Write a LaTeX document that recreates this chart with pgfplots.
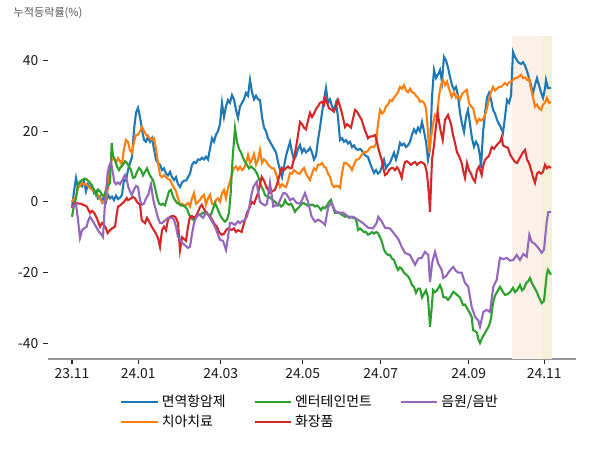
\documentclass[border=0pt]{standalone}
\usepackage{fontspec}
\setmainfont{Noto Sans CJK KR}
\usepackage{pgfplots}
\pgfplotsset{compat=1.18}
\definecolor{cblue}{HTML}{1F77B4}
\definecolor{corange}{HTML}{FF7F0E}
\definecolor{cgreen}{HTML}{2CA02C}
\definecolor{cred}{HTML}{D62728}
\definecolor{cpurple}{HTML}{9467BD}
\definecolor{shA}{HTML}{FBF1E8}
\definecolor{shB}{HTML}{F4F1D9}
\begin{document}
\begin{tikzpicture}
\fill[white] (0,0) rectangle (432pt,324pt);
\useasboundingbox (0,0) rectangle (432pt,324pt);
\node[anchor=west, inner sep=0pt, font=\fontsize{8}{10}\selectfont, text=black!65] at (9.6pt,314.3pt) {누적등락률(\%)};
\begin{axis}[
  at={(34.56pt,65.52pt)}, anchor=south west,
  scale only axis, width=380.16pt, height=232.56pt,
  xmin=48, xmax=576, ymin=-44.4, ymax=46.9,
  axis x line*=bottom, axis y line*=left,
  x axis line style={-, draw=black!40, line width=0.8pt},
  y axis line style={draw=none},
  tick align=outside, major tick length=3.5pt,
  xtick={72,138.3,220.7,302.7,380.7,468.7,544.3},
  xticklabels={23.11,24.01,24.03,24.05,24.07,24.09,24.11},
  ytick={-40,-20,0,20,40},
  minor tick num=0,
  tick style={black!85, line width=0.8pt},
  ticklabel style={font=\fontsize{10}{12}\selectfont, text=black!90},
  /pgf/number format/assume math mode=true,
  legend columns=3,
  legend cell align=left,
  legend style={at={(0.497,-0.163)}, anchor=center, draw=none, fill=none,
    font=\fontsize{10}{12}\selectfont, row sep=0.5pt,
    /tikz/every even column/.append style={column sep=18pt}},
  legend image code/.code={\draw[#1] (0pt,0pt) -- (21pt,0pt); \path (0pt,0pt) -- (26.5pt,0pt);},
]
\addplot[draw=none, fill=shA, forget plot] coordinates {(512,-44.4) (512,46.9) (542,46.9) (542,-44.4)};
\addplot[draw=none, fill=shB, forget plot] coordinates {(542,-44.4) (542,46.9) (552,46.9) (552,-44.4)};

\addlegendimage{cblue, line width=1.5pt}\addlegendentry{면역항암제}
\addlegendimage{cgreen, line width=1.5pt}\addlegendentry{엔터테인먼트}
\addlegendimage{cpurple, line width=1.5pt}\addlegendentry{음원/음반}
\addlegendimage{corange, line width=1.5pt}\addlegendentry{치아치료}
\addlegendimage{cred, line width=1.5pt}\addlegendentry{화장품}

% 면역항암제
\addplot[cblue, line width=1.5pt, forget plot] coordinates {
(72,-1.7)(74,3)(76,6.8)(78,4)(80,5.5)(82,4.5)(84,6)(86,3)(88,5)(90,4)(92,4.5)(94,2.5)(96,3)(98,1)(100,1.5)(102,0)(104,1.5)(106,0)(108,2)(110,1)(112,1.5)(114,0.5)(116,1.8)(118,0.8)(120,1.2)(122,2)(124,6.2)(126,6)(128,9)(130,11)(132,12.7)(134,20.4)(136,25.2)(138,26.6)(140,24)(142,20.4)(144,17.5)(146,17)(148,18.5)(150,17)(152,18)(154,15)(156,11.9)(158,11)(160,10.5)(162,9)(164,9.5)(166,8)(168,7.5)(170,8.5)(172,7)(174,6.2)(176,7)(178,5)(180,4.2)(182,5.5)(184,6)(186,6)(188,7)(190,8)(192,10.5)(194,11.3)
(196,11)(198,12)(200,11.9)(202,12.5)(204,12)(206,12.8)(208,12)(210,15)(212,18)(214,17)(216,19)(218,20)(220,22)(222,28)(224,24)(226,27)(228,28.8)(230,28)(232,30.2)(234,29)(236,26)(238,23.7)(240,27)(242,28)(244,29)(246,30.8)(248,30)(250,34.5)(252,31)(254,29)(256,30)(258,29)(260,28.8)(262,24)(264,21)(266,20)(268,18)(270,17)(272,16)(274,15)(276,14)(278,11.3)(280,9)(282,7)(284,10)(286,13)(288,15)(290,17)(292,14)(294,12)(296,13)(298,15)(300,16.1)(302,14)(304,15)(306,14)(308,14.5)(310,15.3)(312,14)(314,12)(316,13)(318,17.5)(320,21)(322,25.2)(324,29)(326,32.2)(328,28)(330,29)(332,27)(334,26)(336,28)(338,24)(340,17.5)(342,18)(344,17)(346,17.5)(348,16.5)(350,17)(352,15.5)(354,16)(356,15)(358,14.7)(360,15)(362,14.5)(364,13.5)(366,13)(368,12.7)(370,11)(372,9.5)(374,8.2)(376,9)(378,8)(380,8.5)(382,10)(384,11.9)(386,9.5)(388,10.5)(390,11)(392,12.5)(394,13.9)(396,12)(398,14)(400,16.7)(402,16)(404,16.5)(406,15.5)(408,16)(410,17)(412,19)(414,20.5)(416,19.5)(418,21)(420,20)(422,22.6)(424,20)(426,17)(428,11.9)(430,15)(432,29.7)(434,37.3)(436,35)(438,36)(440,37.3)(442,34)(444,41)(446,40)(448,38)(450,35.3)(452,33)(454,31.7)(456,32.5)(458,30)(460,25.2)(462,22)(464,19.8)(466,24)(468,26)(470,22)(472,18)(474,15.6)(476,17)(478,16)(480,13)(481,9.6)(483,19.5)(485,25)(487,29.4)(489,30.8)(491,29)(493,26)(495,25)(497,23.2)(499,22)(501,21)(503,19.5)(505,24)(507,28.8)(509,28)(511,30)(513,42.4)(515,41)(517,40)(519,39.3)(521,39)(523,39.5)(525,38.5)(527,37)(529,35)(531,33)(533,30.8)(535,33)(537,35)(539,33)(541,31)(543,29.4)(545,32)(546,34.5)(548,32.2)(551,32.2)
};
% 치아치료
\addplot[corange, line width=1.5pt, forget plot] coordinates {
(72,0)(74,1)(76,1.4)(78,4)(80,4.5)(82,5.5)(84,5)(86,5)(88,4.5)(90,4)(92,3.5)(94,3)(96,2.5)(98,2)(100,1)(102,0)(104,-0.3)(106,0.5)(108,4)(110,10)(112,11.9)(114,12.5)(116,11)(118,12.4)(120,11.5)(122,10.5)(124,15)(126,17.5)(128,17)(130,14.5)(132,13.9)(134,17)(136,18.9)(138,19)(140,20)(142,21.2)(144,20)(146,19)(148,18.5)(150,18)(152,17.5)(154,18)(156,15)(158,11)(160,7.6)(162,7)(164,7.5)(166,7)(168,6.5)(170,6.2)(172,5)(174,4)(176,3)(178,1)(180,-0.8)(182,-0.5)(184,-1)(186,-0.8)(188,-0.3)(190,-1.3)(192,1)(194,2.5)(196,-0.5)(198,0)(200,0.6)(202,1.5)(204,2)(206,-0.8)(208,1)(210,2)(212,-0.5)(214,-0.8)(216,0.5)(218,1)(220,0)(222,2.5)(224,3.4)(226,1)(228,4)(230,5.7)(232,8)(234,9.6)(236,10)(238,9)(240,9.9)(242,9)(244,9.5)(246,11)(248,13.3)(250,11)(252,12)(254,13.5)(256,10.5)(258,12)(260,14.7)(262,11)(264,12)(266,11.5)(268,10.5)(270,10)(272,9.5)(274,9.5)(276,8)(278,6)(280,4.2)(282,5)(284,4.5)(286,4.2)(288,6)(290,8.2)(292,8)(294,9)(296,8.5)(298,8)(300,8)(302,9)(304,9.6)(306,8)(308,7)(310,6.2)(312,8)(314,9.5)(316,9)(318,10.5)(320,10.5)(322,11)(324,10)(326,9.6)(328,8)(330,7.1)(332,5)(334,4.2)(336,4.5)(338,4.5)(340,4)(342,8)(344,11)(346,11)(348,10.5)(350,10)(352,9)(354,10.5)(356,11.9)(358,12)(360,12.5)(362,13.5)(364,14.1)(366,14)(368,14.5)(370,15.3)(372,15.6)(374,15.5)(376,16.5)(378,22)(380,26)(382,25)(384,25.5)(386,27)(388,27.5)(390,28.8)(392,28.5)(394,29.5)(396,30.2)(398,31)(400,32.5)(402,32)(404,33)(406,31.5)(408,31)(410,32)(412,31)(414,30.8)(416,30)(418,29.5)(420,28.3)(422,28.5)(424,28)(426,26.5)(428,20)(429,13.9)(431,18)(433,22)(435,24.6)(437,24)(439,30)(441,33.1)(443,34.5)(445,33)(447,34)(449,32)(451.7,29.7)(454,31)(456,29.5)(458,30)(460,29)(462,30.5)(464,31)(466.7,31.7)(469,28)(471,27)(473,26.6)(475,24)(477,22.3)(479,23.5)(481,23)(483,23.5)(485,24.5)(487,26.6)(489,29)(491,31)(493,32.5)(495,31.5)(497,32)(499,32.5)(501,32.5)(503,33)(505,33.6)(507,33)(509,33.8)(511,34)(513,34.5)(515,35)(517,35)(519,35.5)(521,35.9)(523,35)(525,35.2)(527,34.5)(529,34.8)(531,32)(533,29.5)(535,26.9)(537,27.5)(539,26.5)(541,26)(543,27.5)(545,28)(547,29.4)(549,28)(551,28.3)
};
% 엔터테인먼트
\addplot[cgreen, line width=1.5pt, forget plot] coordinates {
(72,-4.2)(74,-1)(76,1)(78,5.4)(80,5.5)(82,6.2)(84,6.5)(86,6.5)(88,6)(90,5.5)(92,4.5)(94,3.5)(96,2)(98,3.5)(100,3)(102,2)(104,1.5)(106,3.5)(108,4.5)(110,5.4)(111.7,16.7)(113,13)(115,11.9)(117,10)(119,9)(121,10)(123,10.5)(125,11.5)(127,11)(129,10)(131,9)(133,6.8)(135,7)(137,8.5)(139,9.6)(141,9)(143,7.5)(145,8.5)(147,9.5)(149,8)(151,7)(153,6.2)(155,4)(157,1.4)(159,-0.5)(161,-0.8)(163,-0.5)(165,-1)(167,1)(169,3)(171,3.4)(173,1.5)(175,0.5)(177,-0.3)(179,-0.5)(181,-1)(183,-1)(185,-1.3)(187,-2)(189,-3.5)(191,-4.5)(193,-5)(195,-4.2)(197,-4)(199,-3.7)(201,-3.5)(203,-3)(205,-3.3)(207,-3)(209,-4)(211,-3.5)(213,-2)(215,-0.3)(217,-1.5)(219,-3)(221,-4.2)(223,-5)(225,-5.6)(227,-5)(229,-3)(230.7,2.5)(232.7,12.7)(235,20.9)(237,17)(239,15)(241,14)(243,12.5)(245,11.3)(247,10.5)(249,9.5)(251,10)(253,9.5)(255,9)(257,8)(259,6.5)(261,4.5)(263,3.5)(265,2)(267,1.5)(269,1.4)(271,1)(273,0.5)(275,0)(277,-0.5)(279,-0.5)(281,-1.3)(283,-1)(285,0.5)(287,-0.5)(289,-0.8)(291,-0.5)(293,-1.5)(295,-2.8)(297,-2)(299,-1.5)(301,-0.8)(303,-0.3)(305,-0.5)(307,-1)(309,-1)(311,-0.8)(313,-0.8)(315,-1.3)(317,-1)(319,-1.5)(321,-2.3)(323,-1.5)(325,-1.8)(327,-1)(329,0)(331,0.6)(333,-1.5)(335,-3.1)(337,-3)(339,-3)(341,-3.5)(343,-3.8)(345,-4.2)(347,-4)(349,-4.5)(351,-4.3)(353,-4.5)(355,-4.5)(357,-6)(358,-7.9)(360,-7.5)(362,-8)(364,-8.5)(366,-8.5)(368,-9.3)(370,-9)(372,-8.5)(374,-9)(376,-8.5)(378,-8.8)(380,-10)(382,-11.3)(384,-13.5)(386,-14.5)(388,-15)(390,-15)(392,-16)(394,-16.4)(396,-18)(398,-19.2)(400,-18.5)(402,-19)(404,-20)(406,-20.5)(408,-21)(410,-22)(412,-23.5)(414,-24)(416,-25.7)(418,-24.5)(420,-24.5)(422,-27)(424,-26)(426,-25)(428,-27)(430,-35.3)(432,-29)(433,-24.9)(435,-25.5)(437,-25)(439,-24)(440,-23.5)(442,-25)(443.3,-26.9)(446,-27)(448,-27.7)(450,-27)(452,-26)(453.3,-25.4)(456,-26)(458,-26.5)(460,-27)(463,-29.1)(465,-29)(467,-30)(469,-31)(471.7,-32.5)(473,-36.2)(475,-36.5)(477,-37)(478,-38.5)(480,-39.9)(482,-38.5)(484,-37.5)(486.7,-36.2)(489,-35)(491,-33)(493,-28.6)(495,-26.5)(497,-25.5)(500,-24)(502,-25)(505,-26.3)(508,-26)(510,-25.5)(513,-24.3)(515,-25.5)(517,-25)(520,-23.5)(522,-25)(524,-24.5)(526,-23)(528,-22.5)(530,-21.5)(532,-23)(534,-24)(536.7,-25.4)(539,-27)(541.7,-28.6)(544,-28)(546.7,-20.6)(548,-19.2)(551,-20.6)
};
% 화장품
\addplot[cred, line width=1.5pt, forget plot] coordinates {
(72,-1.7)(74,-0.5)(76.7,-0.3)(79,-0.5)(81,-0.5)(83,-0.8)(85,-1)(86.7,-1.3)(88,-2)(90,-3.1)(92,-2.5)(94,-3)(96.7,-4.5)(98,-5.5)(100,-7)(102,-6)(104,-6.5)(106,-7.5)(107.7,-8.8)(110,-8)(112,-7.5)(115,-7)(116.5,-4)(118,-1.3)(120,-1)(122,-0.5)(124,0)(126.7,1.1)(128,0.5)(130,0.8)(133,1.4)(135,1)(137,0)(140,-0.8)(141.7,-5.1)(143,-5.5)(145,-6)(147,-4.5)(149,-5.5)(151.7,-7)(154,-8)(156,-9)(158,-10.2)(160,-12.7)(162,-8)(164,-7)(166,-8)(168,-5)(170,-4.2)(172,-4)(174,-4)(176,-4.5)(178,-6)(180,-13.6)(182,-10)(184,-10.5)(186,-11)(188,-7)(190,-4.2)(192,-4)(194,-4.5)(196,-4)(198,-2.8)(200,-1.5)(201.7,-0.8)(204,-2)(206,-3)(208,-3.5)(210,-4)(212,-5)(215,-6.5)(217,-7)(219,-8.5)(221.7,-9.3)(224,-9)(226,-8)(228,-7.5)(231.7,-7.9)(234,-7.5)(236,-8.5)(238,-8)(241.7,-8.5)(243,-7)(245,-5.1)(247,-3)(249,-2)(251.7,0)(254,-0.5)(256,1)(258,2.5)(260,5)(261.7,7.1)(264,6)(266,4.5)(268,3.4)(270,2.5)(272,3)(275,3.4)(277,5)(279,7)(281.7,9.6)(284,9)(286,9.5)(288,10)(290,9.5)(291.7,9.6)(293,11)(295,13.9)(297,17)(298,18.9)(300,22.6)(302,22)(304,21)(306,20.5)(308,23)(310,25.2)(312,24)(314,25)(316.7,26.6)(318,27)(320,28)(322,28.3)(324,27.5)(325,29.4)(327,28)(329,26.5)(331.7,26)(334,25.5)(336,27)(338,28.8)(340,27)(342,25)(345,21.2)(347,22)(349,21.5)(351,21)(353,23.5)(355,26)(357,25.5)(359,24.5)(361.7,23.2)(364,21)(366,19.5)(368,18)(370,18.5)(372,18.5)(375,18.9)(377,17)(378,15.5)(380,13.5)(381.7,11.9)(383,10)(385,7.6)(387,8)(389,9)(391,9.5)(393,9.6)(395,9)(397,9.8)(399,9)(401.7,6.8)(403,9)(405,11.3)(407,11.5)(409,11)(411,10.5)(413,11)(415,11.3)(417,10.5)(419,11)(421,11.3)(423,11)(425,10.5)(427,8)(429,2)(430,-2.8)(432,11.9)(434,16)(436,21.5)(437.7,25.2)(440,21)(442.7,17.5)(445,23.2)(448,24.6)(451,22)(453,19)(455,16.7)(457,14)(459,13)(461.7,11)(463,9)(465,6.8)(467,11)(469,9)(471,8)(473,6.5)(475,5.7)(477,9)(479,10)(481.7,7.6)(483,10)(485,11.9)(487,12.5)(489,13)(491.7,15.5)(494,15)(496,15.8)(498,16.5)(500,17)(501.7,18.4)(503,16)(506,15.5)(508,15.3)(510,13.5)(512,12.5)(515,11.3)(517,11)(519,12)(521,13)(523,14)(525,14.7)(527,12)(529,11)(531.7,8.5)(533,7)(535,5.4)(537,8)(539,8.5)(541,8)(543,8.5)(545,10.5)(547,9.5)(549,10)(551,9.6)
};
% 음원/음반
\addplot[cpurple, line width=1.5pt, forget plot] coordinates {
(72,-1.7)(74,-1)(76,-0.5)(78,-5)(80,-10.2)(82,-8)(84,-7.5)(86.7,-7)(88,-5.5)(90,-4.2)(92,-5)(94,-6)(96.7,-7.3)(99,-8.5)(101,-9)(103,-9.9)(105,-0.3)(107.7,8.2)(109,10)(111,11.3)(113,8)(114.3,5.7)(116,5)(118,5.5)(120,5)(122,6)(125,7.6)(127,6)(128.3,4.2)(130,3)(131.7,2)(134,3.5)(136,4.5)(138,4.2)(140,0.5)(141.7,-0.8)(144,-0.5)(146,1)(148.3,2)(150,4)(151,5)(153,1)(154.7,-1)(156.7,-3.1)(158,-4.5)(160,-5.9)(162,-6)(164,-5.5)(166,-5)(168,-4.5)(170,-4.5)(172,-4.5)(174,-5)(176,-7)(178,-9.9)(180,-10.5)(182,-11.5)(184,-12)(186,-12.5)(188,-13)(190,-12.7)(192,-9)(194,-6)(195,-5.1)(197,-4)(199,-3.5)(201,-4)(203,-4.5)(205,-3.5)(206.7,-3.1)(209,-4)(211,-5)(213,-6)(215,-7)(217,-8.5)(220,-10.7)(223,-11)(226,-13.6)(228,-10)(230,-5.9)(232,-6)(235,-6.5)(238,-5.5)(240,-6)(242,-5.5)(245,-5.1)(247,-4)(249,-2)(251,1.5)(253.3,4.2)(256.7,5.7)(258,3)(260,0)(262,-0.5)(265,-1)(267,-0.5)(270,5.4)(273.3,-1.3)(275,-1)(278,-1)(280,0.5)(283.3,2.5)(285,2.5)(287,2)(290,0.5)(293,1)(296.7,-0.3)(300,-0.5)(302,0.5)(305,2.5)(308,0)(311.7,-4.2)(315,-5.6)(318,-5)(321.7,-5.6)(325,-6.5)(328.3,-1.3)(331.7,-0.3)(335,-2.5)(338.3,-3.1)(343,-3)(348.3,-4.2)(353,-4.2)(358.3,-5.1)(363,-6)(368.3,-7.3)(373,-7.5)(376.7,-5.9)(378.3,-4.2)(381.7,-5.5)(385,-7.3)(390,-7.5)(395,-9.3)(398.3,-10.5)(401.7,-12.7)(405,-14.4)(410,-15)(415,-17.8)(418.3,-16)(421.7,-15.8)(425,-14.1)(428.3,-15)(430,-22.6)(432.3,-17)(435,-14.1)(438.3,-17.5)(441.7,-19.2)(443.3,-21.5)(446,-21)(448.3,-20)(451,-19)(453.3,-18.4)(456,-19.5)(458.3,-20)(461.7,-20)(465,-22.9)(468.3,-24)(471.7,-29.7)(475,-32.5)(478.3,-33.5)(480,-35.3)(483.3,-31.1)(486.7,-30.5)(490,-31.1)(493.3,-24)(496.7,-22)(500,-15.8)(503.3,-16.2)(506.7,-15.8)(510,-16.6)(513.3,-16.4)(516.7,-15)(520,-16.4)(523.3,-14.7)(526.7,-15.5)(529.3,-9.3)(531.7,-11.3)(535,-11.9)(538.3,-13)(541.7,-14.4)(544,-13.5)(546.7,-5.6)(548.3,-2.8)(551,-2.8)
};
\end{axis}
\end{tikzpicture}
\end{document}
